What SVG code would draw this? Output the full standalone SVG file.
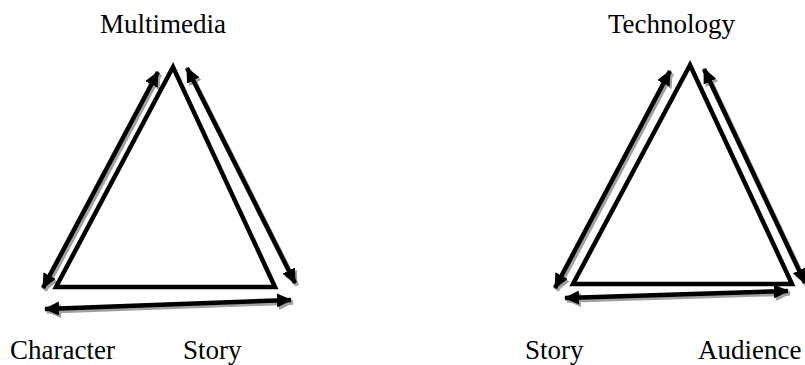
<svg xmlns="http://www.w3.org/2000/svg" width="805" height="365" viewBox="0 0 805 365">
<defs>
<style>
.tri{fill:none;stroke:#000;stroke-width:4.5;stroke-linejoin:miter;stroke-miterlimit:20}
.arr{stroke:#000;stroke-width:4.5;fill:none;marker-start:url(#hb);marker-end:url(#hb)}
.sh{stroke:#a0a0a0;stroke-width:4.5;fill:none;marker-start:url(#hg);marker-end:url(#hg)}
</style>
<marker id="hb" markerUnits="userSpaceOnUse" markerWidth="15" markerHeight="14" refX="14" refY="7" orient="auto-start-reverse"><path d="M0,0 L15,7 L0,14 z" fill="#000"/></marker>
<marker id="hg" markerUnits="userSpaceOnUse" markerWidth="15" markerHeight="14" refX="14" refY="7" orient="auto-start-reverse"><path d="M0,0 L15,7 L0,14 z" fill="#a0a0a0"/></marker>
</defs>
<rect width="805" height="365" fill="#fff"/>
<g id="connectors">
<g transform="translate(2,2.5)">
<line class="sh" x1="43" y1="288" x2="158" y2="72"/>
<line class="sh" x1="187" y1="68" x2="295" y2="283"/>
<line class="sh" x1="45" y1="309" x2="291" y2="300"/>
<line class="sh" x1="555" y1="288" x2="670" y2="71"/>
<line class="sh" x1="704" y1="69" x2="805" y2="283"/>
<line class="sh" x1="565" y1="298" x2="788" y2="291"/>
</g>
<line class="arr" x1="43" y1="288" x2="158" y2="72"/>
<line class="arr" x1="187" y1="68" x2="295" y2="283"/>
<line class="arr" x1="45" y1="309" x2="291" y2="300"/>
<line class="arr" x1="555" y1="288" x2="670" y2="71"/>
<line class="arr" x1="704" y1="69" x2="805" y2="283"/>
<line class="arr" x1="565" y1="298" x2="788" y2="291"/>
</g>
<g id="triangle-left"><polygon class="tri" points="173,67 56,287 275,287"/></g>
<g id="triangle-right"><polygon class="tri" points="690,65 573,284 792,284"/></g>
<g id="multimedia"><text x="100" y="33" font-family="'Liberation Serif'" font-size="27">Multimedia</text></g>
<g id="character"><text x="10" y="359" font-family="'Liberation Serif'" font-size="27">Character</text></g>
<g id="story-left"><text x="183" y="359" font-family="'Liberation Serif'" font-size="27">Story</text></g>
<g id="technology"><text x="608" y="33" font-family="'Liberation Serif'" font-size="27">Technology</text></g>
<g id="story-right"><text x="525" y="359" font-family="'Liberation Serif'" font-size="27">Story</text></g>
<g id="audience"><text x="698" y="359" font-family="'Liberation Serif'" font-size="27">Audience</text></g>
</svg>
